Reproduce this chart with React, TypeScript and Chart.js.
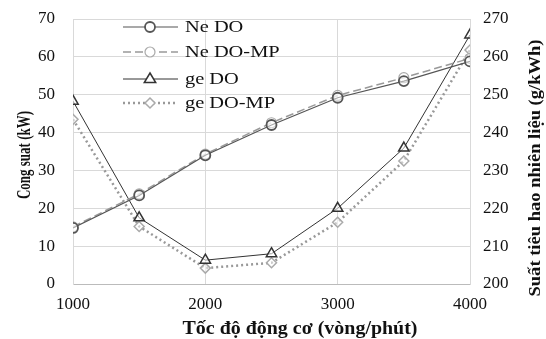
import React, { useEffect, useRef } from "react";
import { Chart, registerables } from "chart.js";
Chart.register(...registerables);

const speeds = [1000, 1500, 2000, 2500, 3000, 3500, 4000];
const neDO = [14.8, 23.4, 34.0, 42.0, 49.2, 53.6, 58.8];
const neDOMP = [15.1, 23.8, 34.3, 42.6, 49.8, 54.5, 59.6];
const geDO = [248.3, 217.5, 206.3, 208.0, 220.0, 235.9, 265.8];
const geDOMP = [243.5, 215.2, 204.2, 205.6, 216.3, 232.5, 261.8];
const legendLabels = ["Ne DO", "Ne DO-MP", "ge DO", "ge DO-MP"];
const xTitle = "Tốc độ động cơ (vòng/phút)";
const yLeftTitle = "Cong suat (kW)";
const yRightTitle = "Suất tiêu hao nhiên liệu (g/kWh)";

const FONT = "'Liberation Serif', 'Times New Roman', serif";

function drawFitted(ctx: any, text: string, cx: number, cy: number, len: number, rot: number, font: string) {
  ctx.save();
  ctx.font = font;
  const w = ctx.measureText(text).width;
  ctx.translate(cx, cy);
  ctx.rotate(rot);
  ctx.scale(len / w, 1);
  ctx.textAlign = "center";
  ctx.textBaseline = "middle";
  ctx.fillStyle = "#111";
  ctx.fillText(text, 0, 0);
  ctx.restore();
}

export default function App() {
  const ref = useRef<HTMLCanvasElement>(null);
  useEffect(() => {
    document.body.style.margin = "0";
    if (!ref.current) return;
    const legendPlugin = {
      id: "customLegend",
      afterDraw(chart: any) {
        const ctx = chart.ctx;
        const items = chart.data.datasets;
        const x0 = 123, x1 = 178, xm = 150, tx = 185;
        const ys = [27, 52, 79, 103];
        ctx.save();
        items.forEach((ds: any, i: number) => {
          const y = ys[i];
          ctx.beginPath();
          ctx.strokeStyle = ds.borderColor;
          ctx.lineWidth = ds.borderWidth;
          ctx.setLineDash(ds.borderDash || []);
          ctx.moveTo(x0, y);
          ctx.lineTo(x1, y);
          ctx.stroke();
          ctx.setLineDash([]);
          ctx.fillStyle = "#fff";
          ctx.strokeStyle = ds.pointBorderColor;
          ctx.lineWidth = ds.pointBorderWidth;
          const r = ds.pointRadius;
          ctx.beginPath();
          if (ds.pointStyle === "circle") {
            ctx.arc(xm, y, r, 0, Math.PI * 2);
          } else if (ds.pointStyle === "triangle") {
            ctx.moveTo(xm, y - r);
            ctx.lineTo(xm + r * 0.95, y + r * 0.6);
            ctx.lineTo(xm - r * 0.95, y + r * 0.6);
            ctx.closePath();
          } else {
            ctx.moveTo(xm, y - r);
            ctx.lineTo(xm + r, y);
            ctx.lineTo(xm, y + r);
            ctx.lineTo(xm - r, y);
            ctx.closePath();
          }
          ctx.fill();
          ctx.stroke();
          ctx.save();
          ctx.fillStyle = "#111";
          ctx.font = `17px ${FONT}`;
          ctx.textBaseline = "middle";
          ctx.textAlign = "left";
          ctx.translate(tx, y + 1);
          ctx.scale(1.2, 1);
          ctx.fillText(legendLabels[i], 0, 0);
          ctx.restore();
        });
        ctx.restore();
        drawFitted(ctx, yLeftTitle, 25, 155, 88, -Math.PI / 2, `bold 18px ${FONT}`);
        drawFitted(ctx, yRightTitle, 536, 168, 257, -Math.PI / 2, `bold 17px ${FONT}`);
        drawFitted(ctx, xTitle, 300, 329, 235, 0, `bold 18px ${FONT}`);
      },
    };
    const mk = (arr: number[]) => arr.map((v, i) => ({ x: speeds[i], y: v }));
    const tickFont = { family: FONT, size: 17 };
    const chart = new Chart(ref.current, {
      type: "line",
      data: {
        datasets: [
          {
            label: legendLabels[0],
            data: mk(neDO),
            yAxisID: "y",
            borderColor: "#555",
            borderWidth: 1.2,
            pointStyle: "circle",
            pointRadius: 5,
            pointBorderColor: "#555",
            pointBorderWidth: 1.8,
            pointBackgroundColor: "rgba(255,255,255,0.5)",
          },
          {
            label: legendLabels[1],
            data: mk(neDOMP),
            yAxisID: "y",
            borderColor: "#999",
            borderWidth: 1.5,
            borderDash: [8, 4],
            pointStyle: "circle",
            pointRadius: 5,
            pointBorderColor: "#aaa",
            pointBorderWidth: 1.2,
            pointBackgroundColor: "rgba(255,255,255,0.5)",
          },
          {
            label: legendLabels[2],
            data: mk(geDO),
            yAxisID: "y1",
            borderColor: "#333",
            borderWidth: 1,
            pointStyle: "triangle",
            pointRadius: 6,
            pointBorderColor: "#333",
            pointBorderWidth: 1.5,
            pointBackgroundColor: "rgba(255,255,255,0.5)",
          },
          {
            label: legendLabels[3],
            data: mk(geDOMP),
            yAxisID: "y1",
            borderColor: "#999",
            borderWidth: 2.5,
            borderDash: [2, 3],
            pointStyle: "rectRot",
            pointRadius: 5,
            pointBorderColor: "#aaa",
            pointBorderWidth: 1.5,
            pointBackgroundColor: "rgba(255,255,255,0.5)",
          },
        ],
      },
      options: {
        animation: false,
        responsive: false,
        layout: { padding: { top: 19, right: 0, left: 0, bottom: 0 } },
        plugins: { legend: { display: false }, tooltip: { enabled: false } },
        scales: {
          x: {
            type: "linear",
            min: 1000,
            max: 4000,
            afterFit: (s: any) => { s.height = 55; },
            ticks: { stepSize: 1000, color: "#111", font: tickFont, padding: 10, callback: (v: any) => String(v) },
            grid: { color: "#d9d9d9", drawTicks: false },
            border: { color: "#bbb" },
          },
          y: {
            position: "left",
            min: 0,
            max: 70,
            afterFit: (s: any) => { s.width = 73; },
            ticks: { stepSize: 10, color: "#111", font: tickFont, padding: 0 },
            grid: { color: "#d9d9d9", drawTicks: true, tickLength: 18, tickColor: "rgba(0,0,0,0)" },
            border: { color: "#d9d9d9" },
          },
          y1: {
            position: "right",
            min: 200,
            max: 270,
            afterFit: (s: any) => { s.width = 76; },
            ticks: { stepSize: 10, color: "#111", font: tickFont, padding: 0 },
            grid: { display: true, drawOnChartArea: false, drawTicks: true, tickLength: 13, tickColor: "rgba(0,0,0,0)" },
            border: { color: "#d9d9d9" },
          },
        },
      },
      plugins: [legendPlugin],
    } as any);
    return () => chart.destroy();
  }, []);
  return (
    <div style={{ width: 546, height: 339 }}>
      <canvas ref={ref} width={546} height={339} style={{ display: "block", background: "#fff" }} />
    </div>
  );
}
